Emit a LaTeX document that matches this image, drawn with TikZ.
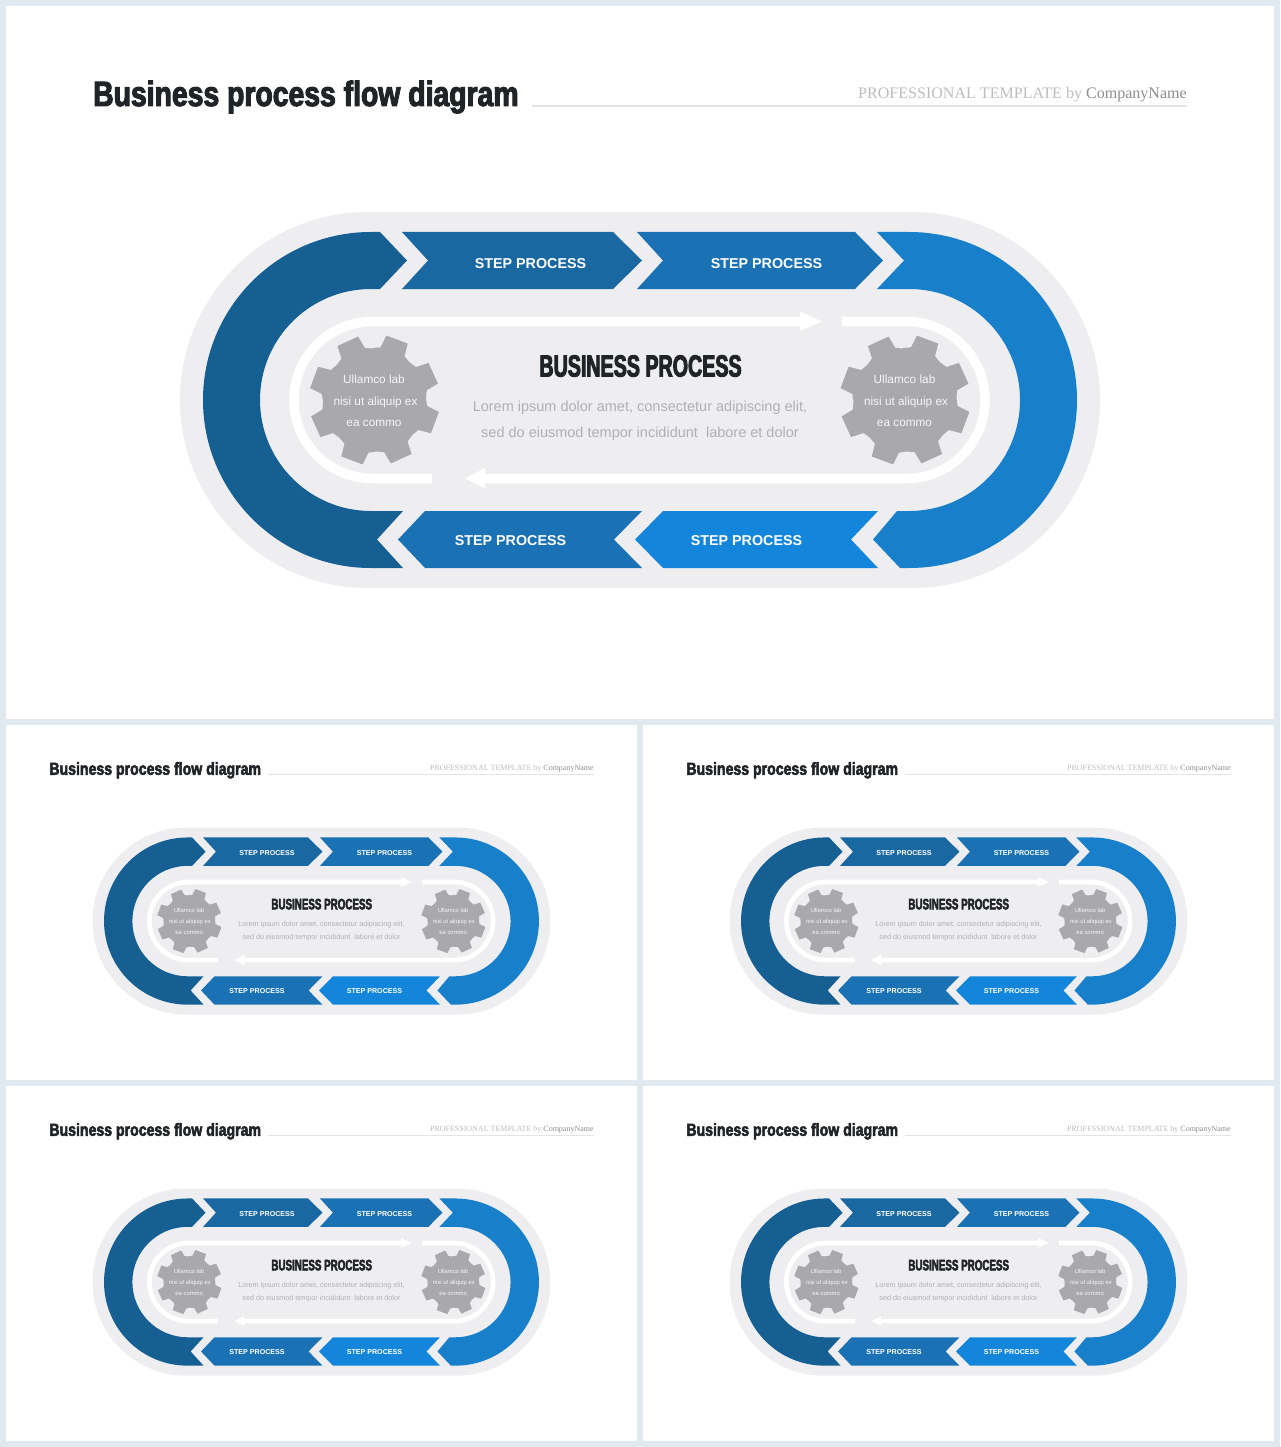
\documentclass[tikz,border=0pt]{standalone}
\usepackage{fontspec}
\setmainfont{Liberation Sans}
\newfontfamily\impactf[FakeStretch=0.81,FakeBold=3]{Liberation Sans Bold}
\newfontfamily\headf[FakeStretch=0.645,FakeBold=3]{Liberation Sans Bold}
\newfontfamily\serifface{Liberation Serif}
\definecolor{pagebg}{HTML}{E0E8F0}
\definecolor{pillgray}{HTML}{EEEEF0}
\definecolor{blueA}{HTML}{155F92}
\definecolor{blueB}{HTML}{1A68A2}
\definecolor{blueC}{HTML}{1A72B4}
\definecolor{blueD}{HTML}{1880CA}
\definecolor{blueE}{HTML}{1386DC}
\definecolor{gearc}{HTML}{A9A9AD}
\definecolor{inkc}{HTML}{202327}
\definecolor{bodyc}{HTML}{B0B0B4}
\definecolor{subc}{HTML}{BDBDC0}
\definecolor{subd}{HTML}{8E8E92}
\definecolor{rulec}{HTML}{E1E5EA}
\tikzset{
  steptext/.style={text=white,font=\fontsize{14.3}{17}\selectfont\bfseries,inner sep=0pt,anchor=center},
  geartext/.style={text=white!90!gearc,font=\fontsize{11.8}{14}\selectfont,inner sep=0pt,anchor=center},
  bodytext/.style={text=bodyc,font=\fontsize{14.5}{17}\selectfont,inner sep=0pt,anchor=center},
  heading/.style={text=inkc,inner sep=0pt},
  ringline/.style={draw=white,line cap=butt,fill=none}
}
\newcommand{\gearshape}[2]{%
  \begin{scope}[shift={(#1,#2)}]
    \fill[gearc] (-92:52)
      \foreach \a in {-69.5,-24.5,20.5,65.5,110.5,155.5,200.5,245.5}{
        -- (\a-14:53) -- (\a-10:65.5) -- (\a+10:65.5) -- (\a+14:53) -- (\a+22.5:51.5)
      } -- cycle;
  \end{scope}}
\newcommand{\drawslide}[4]{%
\begin{scope}[shift={(#1,#2)},scale=#3,transform shape]
\begin{scope}[shift={(-6,-6)}]
  \fill[white] (6,6) rectangle (1274,719);
  % header
  \node[heading,anchor=west,font=\fontsize{35}{40}\selectfont\impactf] (#4-title) at (93,97) {Business process flow diagram};
  \fill[rulec] (532,105.3) rectangle (1187,106.9);
  \node[inner sep=0pt,anchor=east,text=subc,font=\fontsize{16.05}{18}\selectfont\serifface] (#4-sub) at (1187,94.5) {PROFESSIONAL TEMPLATE by \textcolor{subd}{CompanyName}};
  % outer pill
  \fill[pillgray] (368,212) -- (912,212) arc[start angle=-90,end angle=90,radius=188] -- (368,588) arc[start angle=90,end angle=270,radius=188] -- cycle;
  % left band
  \fill[blueA] (380,232) -- (371,232) arc[start angle=-90,end angle=-270,radius=168] -- (403,568) -- (377,539.5) -- (403,511) -- (371,511) arc[start angle=-270,end angle=-90,radius=111] -- (380,289) -- (407,260.5) -- cycle;
  % right band
  \fill[blueD] (877,232) -- (909,232) arc[start angle=-90,end angle=90,radius=168] -- (900,568) -- (873,539.5) -- (897,511) -- (909,511) arc[start angle=90,end angle=-90,radius=111] -- (877,289) -- (904,260.5) -- cycle;
  % steps
  \fill[blueB] (402,232) -- (613,232) -- (642,260.5) -- (613,289) -- (402,289) -- (428,260.5) -- cycle;
  \fill[blueC] (637,232) -- (855,232) -- (883,260.5) -- (855,289) -- (637,289) -- (663,260.5) -- cycle;
  \fill[blueE] (878,511) -- (851,539.5) -- (878,568) -- (663,568) -- (635,539.5) -- (663,511) -- cycle;
  \fill[blueC] (642,511) -- (614,539.5) -- (642,568) -- (425,568) -- (398,539.5) -- (425,511) -- cycle;
  \node[steptext] (#4-s1) at (530.5,264) {STEP PROCESS};
  \node[steptext] (#4-s2) at (766.5,264) {STEP PROCESS};
  \node[steptext] (#4-s3) at (510.5,541) {STEP PROCESS};
  \node[steptext] (#4-s4) at (746.5,541) {STEP PROCESS};
  % white ring with arrows
  \draw[ringline,line width=#3*9.5pt] (432,478.5) -- (372.5,478.5) arc[start angle=90,end angle=270,radius=78.5] -- (801,321.5);
  \fill[white] (800,311.5) -- (822,321.5) -- (800,331) -- cycle;
  \draw[ringline,line width=#3*9.5pt] (842,321.5) -- (906.5,321.5) arc[start angle=-90,end angle=90,radius=78.5] -- (484,478.5);
  \fill[white] (485,468) -- (465,478.5) -- (485,488.5) -- cycle;
  % gears
  \gearshape{374.5}{400}
  \gearshape{905}{400}
  \node[geartext] (#4-g1a) at (374,379) {Ullamco lab};
  \node[geartext] (#4-g1b) at (375.5,402) {nisi ut aliquip ex};
  \node[geartext] (#4-g1c) at (374,423) {ea commo};
  \node[geartext] (#4-g2a) at (904.5,379) {Ullamco lab};
  \node[geartext] (#4-g2b) at (906,402) {nisi ut aliquip ex};
  \node[geartext] (#4-g2c) at (904.5,423) {ea commo};
  % centre text
  \node[heading,anchor=center,font=\fontsize{30.5}{34}\selectfont\headf] (#4-head) at (640.5,366) {BUSINESS PROCESS};
  \node[bodytext] (#4-l1) at (640,407.5) {Lorem ipsum dolor amet, consectetur adipiscing elit,};
  \node[bodytext] (#4-l2) at (640,434) {sed do eiusmod tempor incididunt\ \ labore et dolor};
\end{scope}
\end{scope}}
\begin{document}
\begin{tikzpicture}[x=1pt,y=-1pt]
  \useasboundingbox (0,0) rectangle (1280,1447);
  \fill[pagebg] (0,0) rectangle (1280,1447);
  \drawslide{6}{6}{1}{main}
  \drawslide{6}{725}{0.4976}{a}
  \drawslide{643}{725}{0.4976}{b}
  \drawslide{6}{1086}{0.4976}{c}
  \drawslide{643}{1086}{0.4976}{d}
\end{tikzpicture}
\end{document}
